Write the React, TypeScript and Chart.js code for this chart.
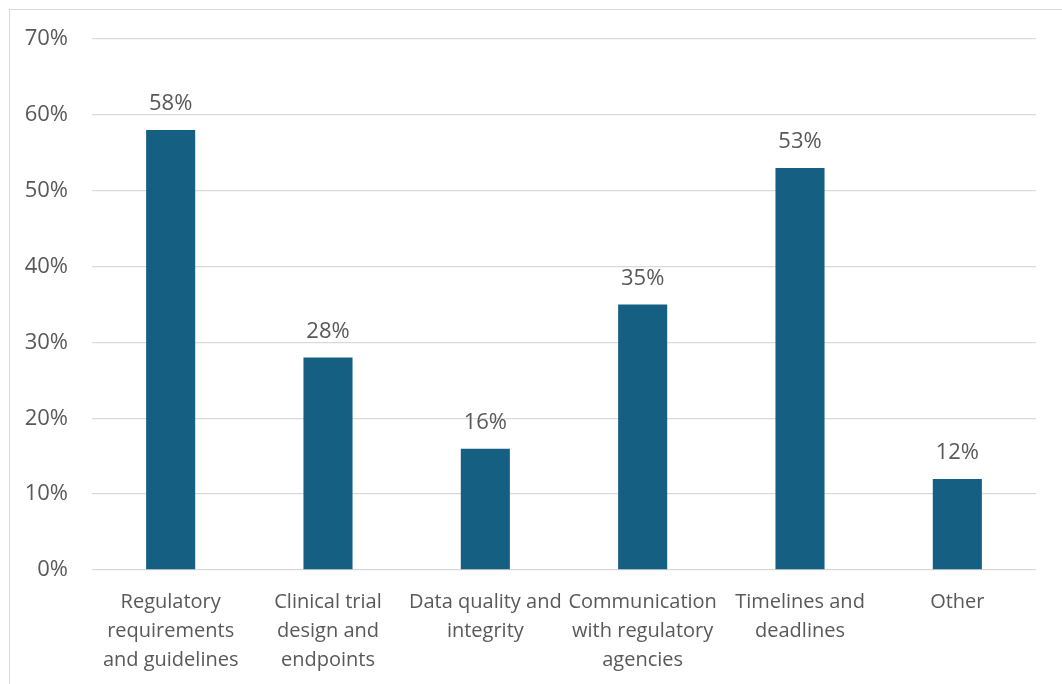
import React, { useEffect, useRef } from "react";
import { Chart, registerables } from "chart.js";

Chart.register(...registerables);

const categories: string[][] = [
  ["Regulatory", "requirements", "and guidelines"],
  ["Clinical trial", "design and", "endpoints"],
  ["Data quality and", "integrity"],
  ["Communication", "with regulatory", "agencies"],
  ["Timelines and", "deadlines"],
  ["Other"],
];
const shares: number[] = [58, 28, 16, 35, 53, 12];
const yMax = 70;
const yStep = 10;

const BAR_COLOR = "#156082";
const TEXT_COLOR = "#595959";
const GRID_COLOR = "#d9d9d9";
const FONT_FAMILY = "'Open Sans', 'Noto Sans', sans-serif";
const NUMBER_SIZE = 22;

// Thin frame around the whole chart
const framePlugin = {
  id: "frame",
  beforeDraw(chart: Chart) {
    const ctx = chart.ctx;
    ctx.save();
    ctx.strokeStyle = GRID_COLOR;
    ctx.lineWidth = 1;
    ctx.strokeRect(9.5, 9.5, chart.width + 100, chart.height + 100);
    ctx.restore();
  },
};

// Percentage labels above each bar
const valueLabels = {
  id: "valueLabels",
  afterDatasetsDraw(chart: Chart) {
    const ctx = chart.ctx;
    const meta = chart.getDatasetMeta(0);
    ctx.save();
    ctx.fillStyle = TEXT_COLOR;
    ctx.font = `${NUMBER_SIZE}px ${FONT_FAMILY}`;
    ctx.textAlign = "center";
    ctx.textBaseline = "middle";
    meta.data.forEach((bar: any, i: number) => {
      ctx.fillText(`${shares[i]}%`, bar.x, bar.y - 26);
    });
    ctx.restore();
  },
};

export default function App() {
  const canvasRef = useRef<HTMLCanvasElement | null>(null);

  useEffect(() => {
    document.body.style.overflow = "hidden";
    const canvas = canvasRef.current;
    if (!canvas) return;
    const chart = new Chart(canvas, {
      type: "bar",
      data: {
        labels: categories,
        datasets: [
          {
            data: shares,
            backgroundColor: BAR_COLOR,
            borderWidth: 0,
            categoryPercentage: 1,
            barPercentage: 0.312,
          },
        ],
      },
      options: {
        animation: false,
        responsive: false,
        maintainAspectRatio: false,
        layout: { padding: { top: 39, right: 26, bottom: 0, left: 0 } },
        plugins: {
          legend: { display: false },
          tooltip: { enabled: false },
        },
        scales: {
          x: {
            grid: { display: false, drawTicks: false },
            border: { display: false },
            ticks: {
              color: TEXT_COLOR,
              font: { family: FONT_FAMILY, size: 20, lineHeight: 1.45 },
              padding: 18,
              maxRotation: 0,
              autoSkip: false,
            },
            afterFit(scale: any) {
              scale.height = 114;
            },
          },
          y: {
            min: 0,
            max: yMax,
            grid: {
              color: GRID_COLOR,
              lineWidth: 1.3,
              drawTicks: false,
            },
            border: { display: false },
            ticks: {
              stepSize: yStep,
              color: TEXT_COLOR,
              font: { family: FONT_FAMILY, size: NUMBER_SIZE },
              padding: 24,
              callback: (v: any) => `${v}%`,
            },
            afterFit(scale: any) {
              scale.width = 92;
            },
          },
        },
      },
      plugins: [framePlugin, valueLabels],
    });
    return () => chart.destroy();
  }, []);

  return (
    <canvas
      ref={canvasRef}
      width={1062}
      height={684}
      style={{ position: "fixed", left: 0, top: 0, width: 1062, height: 684, background: "#ffffff" }}
    />
  );
}
